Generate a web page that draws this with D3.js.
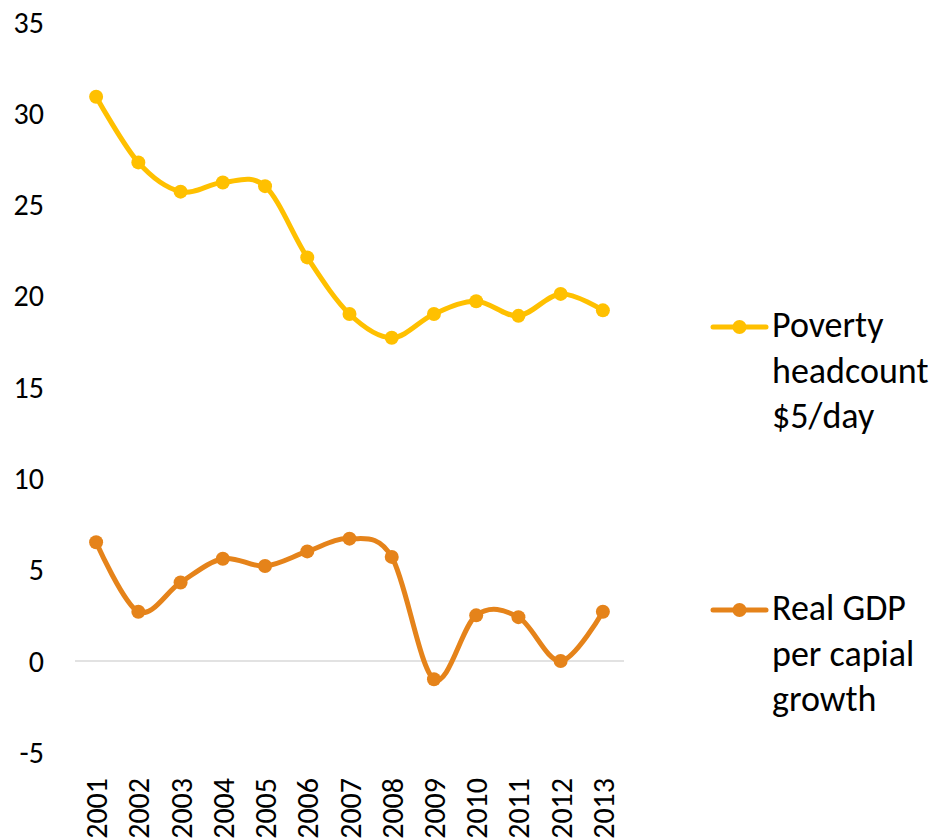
<!DOCTYPE html>
<html><head><meta charset="utf-8">
<script src="https://cdn.jsdelivr.net/npm/d3@7"></script>
<style>
html,body{margin:0;padding:0;background:#fff;}
svg text{font-family:Carlito, Lato, "Open Sans", sans-serif;fill:#000;}
</style></head>
<body>
<svg id="chart" width="936" height="840"></svg>
<script>
const years = ["2001","2002","2003","2004","2005","2006","2007","2008","2009","2010","2011","2012","2013"];
const poverty = [30.9, 27.3, 25.7, 26.2, 26.0, 22.1, 19.0, 17.7, 19.0, 19.7, 18.9, 20.1, 19.2];
const gdpGrowth = [6.5, 2.7, 4.3, 5.6, 5.2, 6.0, 6.7, 5.7, -1.0, 2.5, 2.4, 0.0, 2.7];
const yTicks = [-5, 0, 5, 10, 15, 20, 25, 30, 35];
const seriesNames = [["Poverty","headcount","$5/day"],["Real GDP","per capial","growth"]];
const colors = ["#FFC000", "#E5831A"];

const svg = d3.select("#chart");
const x = d3.scalePoint().domain(years).range([75, 624]).padding(0.5);
const y = d3.scaleLinear().domain([-5, 35]).range([752.3, 21.8]);

// y tick labels
const yAxis = d3.axisLeft(y).tickValues(yTicks).tickSize(0).tickPadding(0).tickFormat(d3.format("d"));
const gy = svg.append("g").attr("transform", "translate(44,0)").call(yAxis);
gy.select(".domain").remove();
gy.selectAll("text").style("font-size", "30px").attr("dy", "0.34em")
  .style("font-family", "Carlito, Lato, 'Open Sans', sans-serif").attr("fill", "#000").text(d => d < 0 ? "-" + Math.abs(d) : d);

// zero line
svg.append("line").attr("x1", 75).attr("x2", 624).attr("y1", y(0)).attr("y2", y(0))
  .attr("stroke", "#D9D9D9").attr("stroke-width", 1.5);

// x axis labels
const xAxis = d3.axisBottom(x).tickSize(0).tickPadding(0);
const gx = svg.append("g").attr("transform", "translate(0,778)").call(xAxis);
gx.select(".domain").remove();
gx.selectAll("text").attr("transform", "rotate(-90)").attr("text-anchor", "end")
  .attr("x", 0).attr("y", 0).attr("dy", "0.35em").style("font-size", "30px")
  .style("font-family", "Carlito, Lato, 'Open Sans', sans-serif").attr("fill", "#000");

const line = d3.line().x((d, i) => x(years[i])).y(d => y(d)).curve(d3.curveCatmullRom.alpha(0));

[poverty, gdpGrowth].forEach((s, k) => {
  svg.append("path").datum(s).attr("d", line).attr("fill", "none")
    .attr("stroke", colors[k]).attr("stroke-width", 5).attr("stroke-linejoin", "round").attr("stroke-linecap", "round");
  svg.selectAll(null).data(s).enter().append("circle")
    .attr("cx", (d, i) => x(years[i])).attr("cy", d => y(d)).attr("r", 7).attr("fill", colors[k]);
});

// legend
const legY = [327, 610];
seriesNames.forEach((names, k) => {
  const g = svg.append("g");
  g.append("line").attr("x1", 713).attr("x2", 766).attr("y1", legY[k]).attr("y2", legY[k])
    .attr("stroke", colors[k]).attr("stroke-width", 5).attr("stroke-linecap", "round");
  g.append("circle").attr("cx", 739.5).attr("cy", legY[k]).attr("r", 7).attr("fill", colors[k]);
  names.forEach((t, j) => {
    g.append("text").attr("x", 772).attr("y", legY[k] + 10 + j * 45.5)
      .style("font-size", "36px").text(t);
  });
});
</script>
</body></html>
